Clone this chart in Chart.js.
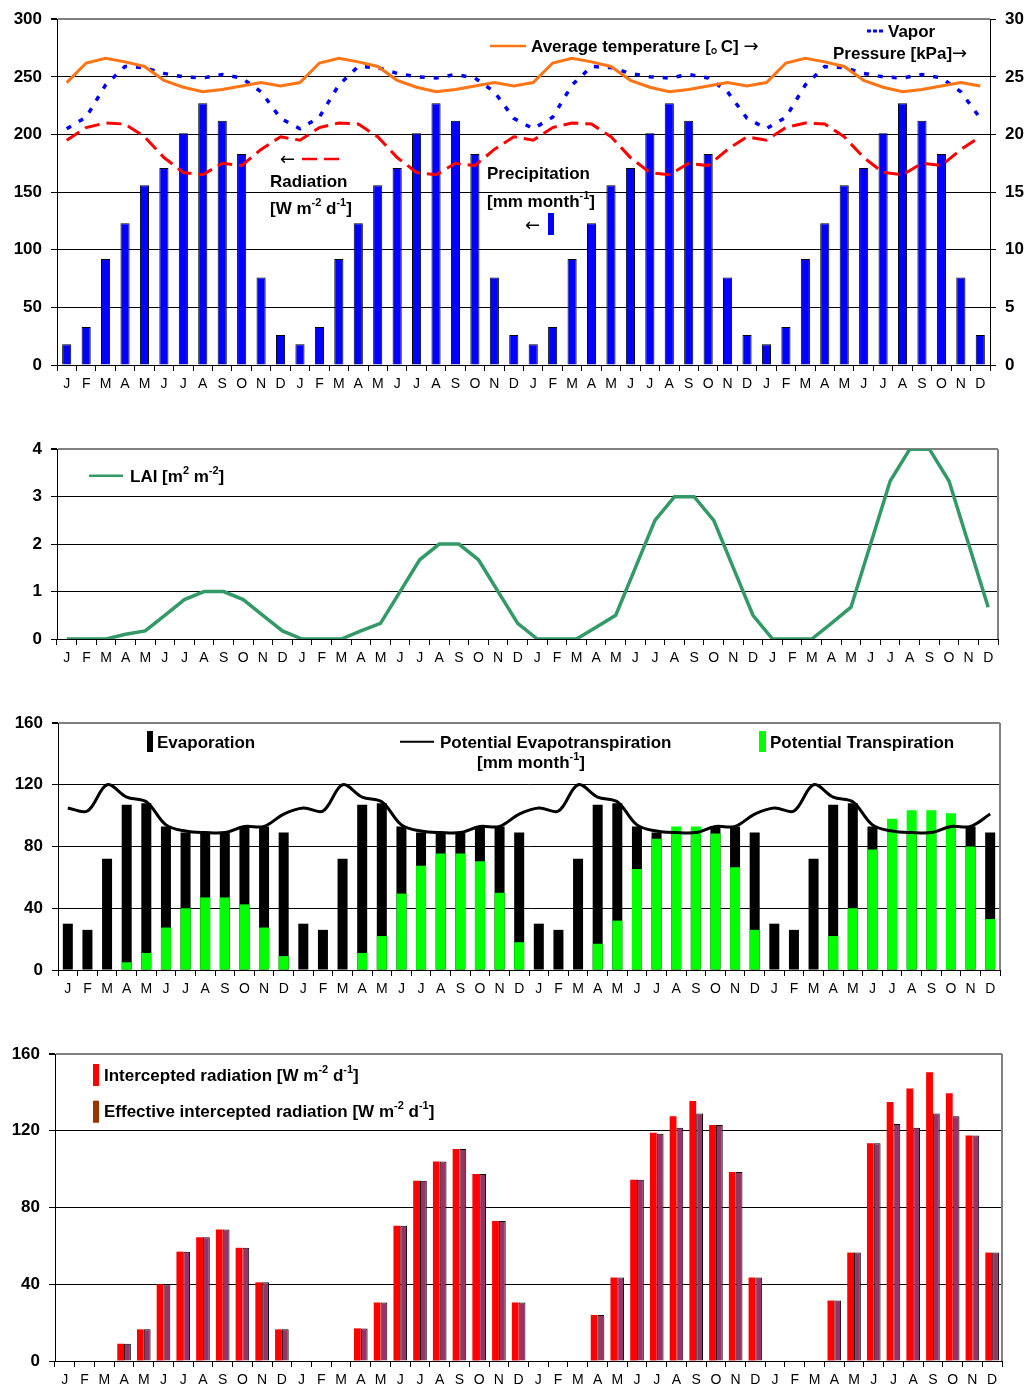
<!DOCTYPE html>
<html>
<head>
<meta charset="utf-8">
<script src="https://cdn.jsdelivr.net/npm/chart.js@4"></script>
<style>
  html, body { margin:0; padding:0; background:#fff; }
  body { width:1030px; height:1390px; position:relative; overflow:hidden; }
  canvas { position:absolute; left:0; }
</style>
</head>
<body>
<canvas id="c1" width="1030" height="400" style="top:0px;width:1030px;height:400px"></canvas>
<canvas id="c2" width="1030" height="240" style="top:430px;width:1030px;height:240px"></canvas>
<canvas id="c3" width="1030" height="300" style="top:700px;width:1030px;height:300px"></canvas>
<canvas id="c4" width="1030" height="360" style="top:1030px;width:1030px;height:360px"></canvas>
<script>
// ---------------- DATA ----------------
const MONTHS = ['J','F','M','A','M','J','J','A','S','O','N','D'];
const YEARS = 4;
const monthLabels = [];
for (let y = 0; y < YEARS; y++) monthLabels.push(...MONTHS);

// Panel 1
const precipitation = [
  18,33,92,123,156,171,201,227,212,183,76,26,
  18,33,92,123,156,171,201,227,212,183,76,26,
  18,33,92,123,156,171,201,227,212,183,76,26,
  18,33,92,123,156,171,201,227,212,183,76,26];
const radiation = [
  195,206,210,209,198,180,167,165,175,173,187,198,
  195,206,210,209,198,180,167,165,175,173,187,198,
  195,206,210,209,198,180,167,165,175,173,187,198,
  195,206,210,209,198,180,167,165,175,173,187,198];
const temperature = [
  24.5,26.2,26.6,26.3,25.9,24.7,24.1,23.7,23.9,24.2,24.5,24.2,
  24.5,26.2,26.6,26.3,25.9,24.7,24.1,23.7,23.9,24.2,24.5,24.2,
  24.5,26.2,26.6,26.3,25.9,24.7,24.1,23.7,23.9,24.2,24.5,24.2,
  24.5,26.2,26.6,26.3,25.9,24.7,24.1,23.7,23.9,24.2,24.5,24.2];
const vaporPressure = [
  20.5,21.5,24.3,25.9,25.8,25.3,25.0,24.9,25.2,24.9,23.7,21.4,
  20.5,21.5,24.3,25.9,25.8,25.3,25.0,24.9,25.2,24.9,23.7,21.4,
  20.5,21.5,24.3,25.9,25.8,25.3,25.0,24.9,25.2,24.9,23.7,21.4,
  20.5,21.5,24.3,25.9,25.8,25.3,25.0,24.9,25.2,24.9,23.7,21.4];

// Panel 2
const lai = [
  0,0,0,0.1,0.17,0.5,0.83,1,1,0.83,0.5,0.17,
  0,0,0,0.17,0.33,1,1.67,2,2,1.67,1,0.33,
  0,0,0,0.25,0.5,1.5,2.5,3,3,2.5,1.5,0.5,
  0,0,0,0.33,0.67,2,3.33,4,4,3.33,2,0.67];

// Panel 3
const evaporation = [
  30,26,72,107,108,93,89,89,89,93,93,89,
  30,26,72,107,108,93,89,89,89,93,93,89,
  30,26,72,107,108,93,89,89,89,93,93,89,
  30,26,72,107,108,93,89,89,89,93,93,89];
const potTranspiration = [
  0,0,0,5,11,27.5,40,47,47,42.5,27.5,9,
  0,0,0,11,22,49.5,67.5,75.5,75.5,70.5,50,18,
  0,0,0,17,32,65.5,85,93,93,88.5,66.5,26,
  0,0,0,22,40,78,98,103.5,103.5,101.5,80,33];
const potEvapotranspiration = [
  105,103,120,112,109,94,90,89,89,93,93,101,
  105,103,120,112,109,94,90,89,89,93,93,101,
  105,103,120,112,109,94,90,89,89,93,93,101,
  105,103,120,112,109,94,90,89,89,93,93,101];

// Panel 4
const interceptedRad = [
  0,0,0,9,16.5,40,57,64.5,68.5,59,41,16.5,
  0,0,0,17,30.5,70.5,94,104,110.5,97.5,73,30.5,
  0,0,0,24,43.5,94.5,119,127.5,135.5,123,98.5,43.5,
  0,0,0,31.5,56.5,113.5,135,142,150.5,139.5,117.5,56.5];
const effectiveRad = [
  0,0,0,9,16.5,40,57,64.5,68.5,59,41,16.5,
  0,0,0,17,30.5,70.5,94,104,110.5,97.5,73,30.5,
  0,0,0,24,43.5,94.5,118.5,121.5,129,123,98.5,43.5,
  0,0,0,31.5,56.5,113.5,123.5,121.5,129,127.5,117.5,56.5];

// ---------------- STYLE HELPERS ----------------
const FONT = "'Liberation Sans', Arial, Helvetica, sans-serif";
const ARROWFONT = "'DejaVu Sans', sans-serif";
const CJKFONT = "'Noto Sans CJK SC', 'Noto Sans CJK JP', sans-serif";
const ORANGE = '#FF7414';

function xScale(h) {
  return {
    type: 'category', offset: true,
    grid: { offset: true, drawOnChartArea: false, drawTicks: true, tickLength: 6, tickColor: '#000', color: '#000', lineWidth: 1 },
    border: { display: true, color: '#000', width: 1 },
    ticks: { color: '#000', font: { family: FONT, size: 14 }, padding: 5, maxRotation: 0, minRotation: 0, autoSkip: false },
    afterFit(s) { s.height = h; }
  };
}
function leftY(min, max, step, w) {
  return {
    type: 'linear', position: 'left', min: min, max: max,
    ticks: { stepSize: step, color: '#000', font: { family: FONT, size: 17, weight: 'bold' }, padding: 9 },
    grid: {
      color: (c) => (c.tick && c.tick.value === max) ? '#808080' : '#000',
      lineWidth: (c) => (c.tick && c.tick.value === max) ? 2 : 1,
      tickLength: 6, tickColor: '#000'
    },
    border: { display: true, color: '#000', width: 1 },
    afterFit(s) { s.width = w; }
  };
}
function rightY(min, max, step, w) {
  return {
    type: 'linear', position: 'right', min: min, max: max,
    ticks: { stepSize: step, color: '#000', font: { family: FONT, size: 17, weight: 'bold' }, padding: 9 },
    grid: { drawOnChartArea: false, tickLength: 6, tickColor: '#000', color: '#000' },
    border: { display: true, color: '#000', width: 1 },
    afterFit(s) { s.width = w; }
  };
}

function drawRich(ctx, x, cy, parts, size) {
  let cx = x;
  const base = cy + size * 0.36;
  ctx.save();
  ctx.fillStyle = '#000';
  ctx.textBaseline = 'alphabetic';
  ctx.textAlign = 'left';
  for (const p of parts) {
    const s = p.size || (p.sup ? Math.round(size * 0.64) : size);
    const w = p.weight || 'bold';
    ctx.font = w + ' ' + s + 'px ' + (p.family || FONT);
    const y = base - (p.sup ? size * 0.45 : 0);
    ctx.fillText(p.t, cx, y);
    cx += (p.adv !== undefined) ? p.adv : ctx.measureText(p.t).width;
  }
  ctx.restore();
  return cx;
}
const ARROW_R = { t: '→', weight: 'normal', family: ARROWFONT, size: 18 };
const ARROW_L = { t: '←', weight: 'normal', family: ARROWFONT, size: 18 };
function seg(ctx, x1, y1, x2, y2, color, width, dash) {
  ctx.save();
  ctx.strokeStyle = color; ctx.lineWidth = width;
  ctx.setLineDash(dash || []);
  ctx.beginPath(); ctx.moveTo(x1, y1); ctx.lineTo(x2, y2); ctx.stroke();
  ctx.restore();
}
function rect(ctx, x, y, w, h, color) {
  ctx.save(); ctx.fillStyle = color; ctx.fillRect(x, y, w, h); ctx.restore();
}
const rightFrame = {
  id: 'rightFrame',
  afterDraw(chart) {
    const a = chart.chartArea, ctx = chart.ctx;
    seg(ctx, a.right, a.top, a.right, a.bottom, '#808080', 2);
  }
};
function annot(fn) { return { id: 'annot', afterDraw(chart) { fn(chart.ctx, chart); } }; }

const baseOpts = (padding) => ({
  responsive: false, animation: false, events: [],
  layout: { padding: padding },
  plugins: { legend: { display: false }, tooltip: { enabled: false }, title: { display: false } }
});

// ---------------- PANEL 1 ----------------
new Chart(document.getElementById('c1'), {
  data: {
    labels: monthLabels,
    datasets: [
      { type: 'line', label: 'Average temperature', data: temperature, yAxisID: 'y1',
        borderColor: ORANGE, borderWidth: 3, pointRadius: 0, tension: 0, order: 0 },
      { type: 'line', label: 'Vapor Pressure', data: vaporPressure, yAxisID: 'y1',
        borderColor: '#0000FF', borderWidth: 3.5, borderDash: [5, 9], pointRadius: 0, tension: 0, order: 1 },
      { type: 'line', label: 'Radiation', data: radiation, yAxisID: 'y',
        borderColor: '#FF0000', borderWidth: 3, borderDash: [15, 7], pointRadius: 0, tension: 0, order: 2 },
      { type: 'bar', label: 'Precipitation', data: precipitation, yAxisID: 'y',
        backgroundColor: '#0000FF', borderColor: '#000', borderWidth: 1,
        categoryPercentage: 1, barPercentage: 0.47, order: 5 }
    ]
  },
  options: Object.assign(baseOpts({ top: 15, left: 0, right: 0, bottom: 0 }), {
    scales: { x: xScale(35), y: leftY(0, 300, 50, 57), y1: rightY(0, 30, 5, 40) }
  }),
  plugins: [annot((ctx) => {
    seg(ctx, 490, 46, 526, 46, ORANGE, 2.5);
    drawRich(ctx, 531, 45.5, [{ t: 'Average temperature [' }, { t: '。', size: 17, family: CJKFONT, adv: 10 }, { t: 'C] ' }, ARROW_R], 17);
    seg(ctx, 867, 31, 884, 31, '#0000FF', 3, [4, 2]);
    drawRich(ctx, 888, 31, [{ t: 'Vapor' }], 17);
    drawRich(ctx, 833, 53, [{ t: 'Pressure [kPa]' }, ARROW_R], 17);
    drawRich(ctx, 280, 159, [ARROW_L], 17);
    seg(ctx, 302, 159, 343, 159, '#FF0000', 2.5, [15, 7]);
    drawRich(ctx, 270, 181, [{ t: 'Radiation' }], 17);
    drawRich(ctx, 270, 208, [{ t: '[W m' }, { t: '-2', sup: true }, { t: ' d' }, { t: '-1', sup: true }, { t: ']' }], 17);
    drawRich(ctx, 487, 173, [{ t: 'Precipitation' }], 17);
    drawRich(ctx, 487, 201, [{ t: '[mm month' }, { t: '-1', sup: true }, { t: ']' }], 17);
    drawRich(ctx, 525, 225, [ARROW_L], 17);
    rect(ctx, 548, 213, 6, 22, '#0000FF');
  })]
});

// ---------------- PANEL 2 ----------------
new Chart(document.getElementById('c2'), {
  data: {
    labels: monthLabels,
    datasets: [
      { type: 'line', label: 'LAI', data: lai, borderColor: '#339966', borderWidth: 3.5, pointRadius: 0, tension: 0 }
    ]
  },
  options: Object.assign(baseOpts({ top: 19, left: 0, right: 32, bottom: 0 }), {
    scales: { x: xScale(31), y: leftY(0, 4, 1, 57) }
  }),
  plugins: [rightFrame, annot((ctx) => {
    seg(ctx, 89, 45.7, 123, 45.7, '#339966', 2.5);
    drawRich(ctx, 130, 45.5, [{ t: 'LAI [m' }, { t: '2', sup: true }, { t: ' m' }, { t: '-2', sup: true }, { t: ']' }], 17);
  })]
});

// ---------------- PANEL 3 ----------------
new Chart(document.getElementById('c3'), {
  data: {
    labels: monthLabels,
    datasets: [
      { type: 'line', label: 'Potential Evapotranspiration', data: potEvapotranspiration,
        borderColor: '#000', borderWidth: 3, pointRadius: 0, tension: 0.35, order: 0 },
      { type: 'bar', label: 'Potential Transpiration', data: potTranspiration, backgroundColor: '#00FF00',
        grouped: false, categoryPercentage: 1, barPercentage: 0.51, order: 1 },
      { type: 'bar', label: 'Evaporation', data: evaporation, backgroundColor: '#000',
        grouped: false, categoryPercentage: 1, barPercentage: 0.51, order: 2 }
    ]
  },
  options: Object.assign(baseOpts({ top: 23, left: 0, right: 30, bottom: 0 }), {
    scales: { x: xScale(30), y: leftY(0, 160, 40, 58) }
  }),
  plugins: [rightFrame, annot((ctx) => {
    rect(ctx, 147, 31, 6, 21, '#000');
    drawRich(ctx, 157, 41.7, [{ t: 'Evaporation' }], 17);
    seg(ctx, 400, 41.7, 434, 41.7, '#000', 2);
    drawRich(ctx, 440, 41.7, [{ t: 'Potential Evapotranspiration' }], 17);
    drawRich(ctx, 477, 61.7, [{ t: '[mm month' }, { t: '-1', sup: true }, { t: ']' }], 17);
    rect(ctx, 759, 31, 7, 21, '#00FF00');
    drawRich(ctx, 770, 41.7, [{ t: 'Potential Transpiration' }], 17);
  })]
});

// ---------------- PANEL 4 ----------------
new Chart(document.getElementById('c4'), {
  data: {
    labels: monthLabels,
    datasets: [
      { type: 'bar', label: 'Intercepted radiation', data: interceptedRad, backgroundColor: '#FF0000',
        categoryPercentage: 0.69, barPercentage: 1 },
      { type: 'bar', label: 'Effective intercepted radiation', data: effectiveRad, backgroundColor: '#993366',
        borderColor: '#000', borderWidth: 1, categoryPercentage: 0.69, barPercentage: 1 }
    ]
  },
  options: Object.assign(baseOpts({ top: 24, left: 0, right: 28, bottom: 0 }), {
    scales: { x: xScale(29), y: leftY(0, 160, 40, 55) }
  }),
  plugins: [rightFrame, annot((ctx) => {
    rect(ctx, 93, 34, 6, 22, '#FF0000');
    drawRich(ctx, 104, 45, [{ t: 'Intercepted radiation [W m' }, { t: '-2', sup: true }, { t: ' d' }, { t: '-1', sup: true }, { t: ']' }], 17);
    rect(ctx, 93, 70.7, 6, 22, '#993300');
    drawRich(ctx, 104, 81, [{ t: 'Effective intercepted radiation [W m' }, { t: '-2', sup: true }, { t: ' d' }, { t: '-1', sup: true }, { t: ']' }], 17);
  })]
});
</script>
</body>
</html>
